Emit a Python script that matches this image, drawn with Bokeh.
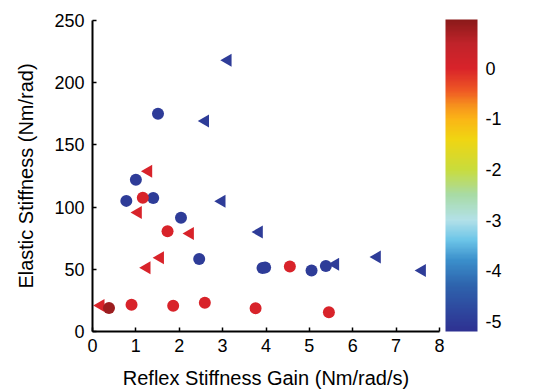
import numpy as np
from bokeh.plotting import figure
from bokeh.models import (ColumnDataSource, LinearColorMapper, ColorBar, Label,
                          FixedTicker, Range1d, PrintfTickFormatter)
from bokeh.transform import transform
from bokeh.embed import file_html
from bokeh.resources import INLINE

# ---- data ----
circle_x = [1.51, 1.00, 0.78, 1.40, 2.04, 2.46, 3.92, 3.98, 5.05, 5.38,
            1.16, 1.73, 0.90, 1.86, 2.59, 3.76, 4.55, 5.45, 0.38]
circle_y = [175, 122, 105, 107.3, 91.5, 58.2, 51, 51.5, 49, 52.6,
            107.6, 80.5, 21.5, 20.7, 23.1, 18.6, 52.3, 15.4, 18.8]
circle_torque = [-5, -5, -5, -5, -5, -5, -5, -5, -5, -5,
                 0, 0, 0, 0, 0, 0, 0, 0, 0.8]

tri_x = [3.12, 2.60, 2.98, 3.84, 5.60, 6.56, 7.60,
         1.29, 1.05, 2.25, 1.56, 1.25, 0.19]
tri_y = [218, 169.3, 104.7, 80, 54, 59.8, 49,
         128.8, 95.6, 78.7, 59.3, 51.3, 20.9]
tri_torque = [-5, -5, -5, -5, -5, -5, -5,
              0, 0, 0, 0, 0, 0]

x_ticks = [0, 1, 2, 3, 4, 5, 6, 7, 8]
y_ticks = [0, 50, 100, 150, 200, 250]
cbar_ticks = [-5, -4, -3, -2, -1, 0]
torque_low, torque_high = -5.2, 0.96

# ---- colour map resembling the reference colour bar ----
anchors = [(-5.2, "#2e3192"), (-4.3, "#2e63ad"), (-3.8, "#3b8fcb"), (-3.4, "#6cc5e8"),
           (-3.0, "#b3e1e8"), (-2.5, "#a8dba5"), (-2.0, "#c9dc3c"), (-1.4, "#f0d512"),
           (-1.0, "#fbb516"), (-0.75, "#f7941d"), (-0.45, "#ef5a24"), (0.0, "#d9232a"),
           (0.5, "#c0232a"), (0.96, "#8b1a1a")]
av = np.array([a[0] for a in anchors])
ac = np.array([[int(c[1][i:i + 2], 16) for i in (1, 3, 5)] for c in anchors], float)
vals = np.linspace(torque_low, torque_high, 256)
palette = []
for v in vals:
    rgb = [np.interp(v, av, ac[:, k]) for k in range(3)]
    palette.append("#%02x%02x%02x" % tuple(int(round(c)) for c in rgb))

mapper = LinearColorMapper(palette=palette, low=torque_low, high=torque_high)

FONT = "Liberation Sans"

p = figure(width=543, height=392, output_backend="svg", toolbar_location=None,
           x_range=Range1d(0, 8), y_range=Range1d(0, 250),
           min_border_left=92, min_border_right=104, min_border_top=20,
           min_border_bottom=61)
p.outline_line_color = None
p.grid.visible = False
p.background_fill_color = "white"
p.border_fill_color = "white"

tri_src = ColumnDataSource(dict(x=tri_x, y=tri_y, t=tri_torque))
cir_src = ColumnDataSource(dict(x=circle_x, y=circle_y, t=circle_torque))

p.scatter("x", "y", source=tri_src, marker="triangle", angle=np.pi / 2, size=13,
          fill_color=transform("t", mapper), line_color=None)
p.scatter("x", "y", source=cir_src, marker="circle", size=12,
          fill_color=transform("t", mapper), line_color=None)

for ax in (p.xaxis[0], p.yaxis[0]):
    ax.major_tick_in = 4
    ax.major_tick_out = 0
    ax.minor_tick_line_color = None
    ax.axis_line_width = 2
    ax.major_tick_line_width = 1.5
    ax.major_label_text_font = FONT
    ax.major_label_text_font_size = "18px"
    ax.major_label_text_color = "black"
    ax.axis_label_text_font = FONT
    ax.axis_label_text_font_size = "20px"
    ax.axis_label_text_font_style = "normal"
    ax.axis_label_text_color = "black"

p.xaxis.ticker = FixedTicker(ticks=x_ticks)
p.yaxis.ticker = FixedTicker(ticks=y_ticks)
p.xaxis.axis_label = "Reflex Stiffness Gain (Nm/rad/s)"
p.yaxis.axis_label = "Elastic Stiffness (Nm/rad)"
p.xaxis.major_label_standoff = 7
p.yaxis.major_label_standoff = 8
p.xaxis.axis_label_standoff = 12
p.yaxis.axis_label_standoff = 14

cb = ColorBar(color_mapper=mapper, ticker=FixedTicker(ticks=cbar_ticks),
              formatter=PrintfTickFormatter(format="%d"),
              width=32, height=312, padding=0, margin=0, location=(6, 0),
              major_tick_line_color=None, minor_tick_line_color=None,
              bar_line_color=None, border_line_color=None,
              background_fill_color=None,
              major_label_text_font=FONT, major_label_text_font_size="18px",
              major_label_text_color="black", label_standoff=8)
p.add_layout(cb, "right")

p.add_layout(Label(x=440, y=171, x_units="screen", y_units="screen",
                   angle=np.pi / 2, text="Torque (Nm)", text_align="center",
                   text_baseline="middle", text_font=FONT,
                   text_font_size="20px", text_color="black"))

open("out.html", "w").write(file_html(p, INLINE))
